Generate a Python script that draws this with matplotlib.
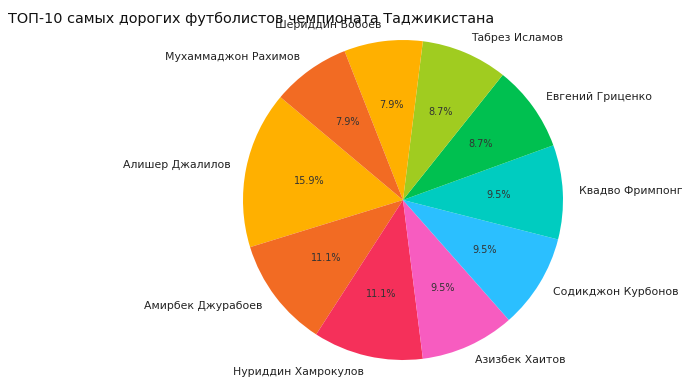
import matplotlib
matplotlib.use("Agg")
import matplotlib.pyplot as plt

# Market values of the top-10 players (shares shown on the pie)
players = [
    "Алишер Джалилов",
    "Амирбек Джурабоев",
    "Нуриддин Хамрокулов",
    "Азизбек Хаитов",
    "Содикджон Курбонов",
    "Квадво Фримпонг",
    "Евгений Гриценко",
    "Табрез Исламов",
    "Шериддин Бобоев",
    "Мухаммаджон Рахимов",
]
values = [200, 140, 140, 120, 120, 120, 110, 110, 100, 100]

colors = ["#FFB000", "#F26B23", "#F5305A", "#F75CC0", "#2BBFFF",
          "#00CCC0", "#00C050", "#A0CC20", "#FFB000", "#F26B23"]

title = "ТОП-10 самых дорогих футболистов чемпионата Таджикистана"

fig = plt.figure(figsize=(7, 3.83), dpi=100)
ax = fig.add_axes([0.29, -0.0444, 0.5714, 1.0444])

wedges, texts, autotexts = ax.pie(
    values, labels=players, colors=colors, autopct="%1.1f%%",
    startangle=140, textprops={"fontsize": 7.8, "color": "#222222"},
)
for t in autotexts:
    t.set_fontsize(7.0)
    t.set_color("#333333")

fig.text(0.011, 0.95, title, fontsize=10.4, ha="left", va="center", color="#111111")

fig.savefig("out.png", dpi=100)
